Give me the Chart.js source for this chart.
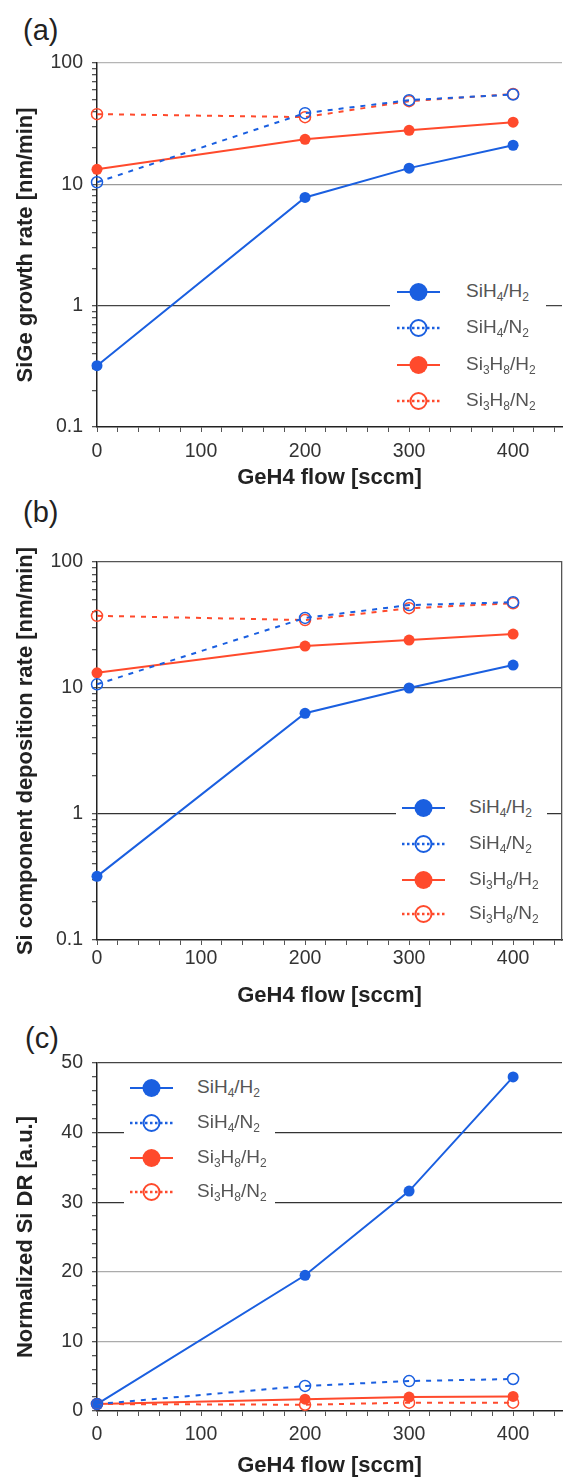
<!DOCTYPE html>
<html>
<head>
<meta charset="utf-8">
<script src="https://cdn.jsdelivr.net/npm/chart.js@4.4.0/dist/chart.umd.min.js"></script>
<style>
    body { margin: 0; background: #fff; font-family: "Liberation Sans", Arial, sans-serif; }
    #page { position: relative; width: 563px; height: 1479px; overflow: hidden; }
    .panel { position: absolute; left: 0; width: 563px; }
    .tag { position: absolute; font-size: 29px; color: #222; line-height: 1; }
    .legend-row { position: absolute; height: 30px; display: flex; align-items: center; background: #fff; }
    .legend-row svg { flex: none; }
    .legend-row span { font-size: 19px; color: #555; white-space: nowrap; }
    .legend-row sub { font-size: 12px; vertical-align: -4px; }
</style>
</head>
<body>
<div id="page">
    <div class="tag" style="left:23px; top:16px;">(a)</div>
    <div class="tag" style="left:23px; top:498px;">(b)</div>
    <div class="tag" style="left:25px; top:1024px;">(c)</div>
    <div class="panel" style="top:0; height:500px;"><canvas id="chartA"></canvas></div>
    <div class="panel" style="top:500px; height:520px;"><canvas id="chartB"></canvas></div>
    <div class="panel" style="top:1020px; height:459px;"><canvas id="chartC"></canvas></div>
</div>
<script>
// Data
const flow = [0, 200, 300, 400];
const seriesNames = ['SiH<sub>4</sub>/H<sub>2</sub>', 'SiH<sub>4</sub>/N<sub>2</sub>',
                     'Si<sub>3</sub>H<sub>8</sub>/H<sub>2</sub>', 'Si<sub>3</sub>H<sub>8</sub>/N<sub>2</sub>'];

// (a) SiGe growth rate [nm/min]
const growthSiH4H2 = [0.32, 7.8, 13.6, 21];
const growthSiH4N2 = [10.4, 38.6, 49.4, 55];
const growthSi3H8H2 = [13.3, 23.5, 27.9, 32.5];
const growthSi3H8N2 = [37.9, 35.8, 48.5, 55.5];

// (b) Si component deposition rate [nm/min]
const depoSiH4H2 = [0.32, 6.3, 10, 15.2];
const depoSiH4N2 = [10.7, 36, 45.5, 48];
const depoSi3H8H2 = [13.2, 21.5, 24, 26.8];
const depoSi3H8N2 = [37.4, 34.6, 43, 47];

// (c) Normalized Si DR [a.u.]
const normSiH4H2 = [1, 19.5, 31.6, 48];
const normSiH4N2 = [1, 3.6, 4.3, 4.6];
const normSi3H8H2 = [1, 1.7, 2.0, 2.1];
const normSi3H8N2 = [1, 0.9, 1.2, 1.2];

const xLabels = [0, 100, 200, 300, 400];
const logLabels = [0.1, 1, 10, 100];
const linLabels = [0, 10, 20, 30, 40, 50];

const BLUE = '#1a5fe0';
const RED = '#ff4a2c';
const FONT = "'Liberation Sans', Arial, sans-serif";

function makeDatasets(values) {
    const styles = [
        { color: BLUE, open: false },
        { color: BLUE, open: true },
        { color: RED, open: false },
        { color: RED, open: true }
    ];
    return values.map((vals, i) => {
        const s = styles[i];
        return {
            data: flow.map((x, j) => ({ x: x, y: vals[j] })),
            borderColor: s.color,
            borderWidth: 2,
            borderDash: s.open ? [5, 6] : [],
            pointRadius: 5.5,
            pointBorderWidth: s.open ? 1.5 : 0,
            pointBackgroundColor: s.open ? 'rgba(0,0,0,0)' : s.color,
            pointBorderColor: s.color,
            tension: 0,
            clip: false,
            order: s.open ? 1 : 2
        };
    });
}

function xScale(height, tickPad, titlePad) {
    return {
        type: 'linear',
        min: 0,
        max: 447,
        afterBuildTicks: s => {
            const t = [];
            for (let v = 0; v <= 440; v += 20) t.push({ value: v });
            s.ticks = t;
        },
        afterFit: s => { s.height = height; },
        ticks: {
            autoSkip: false,
            maxRotation: 0,
            padding: tickPad,
            color: '#333',
            font: { family: FONT, size: 19.5 },
            callback: v => (xLabels.includes(v) ? String(v) : '')
        },
        grid: { drawOnChartArea: false, tickLength: 5, tickColor: '#555' },
        border: { color: '#222', width: 1.5 },
        title: {
            display: true,
            text: 'GeH4 flow [sccm]',
            color: '#222',
            font: { family: FONT, size: 22, weight: 'bold' },
            padding: { top: 0, bottom: titlePad }
        }
    };
}

function logTicks() {
    const t = [];
    for (let e = -1; e <= 1; e++) {
        for (let m = 1; m <= 9; m++) t.push({ value: Number((m * Math.pow(10, e)).toPrecision(3)) });
    }
    t.push({ value: 100 });
    return t;
}

function yCommon(title, gridColors) {
    return {
        afterFit: s => { s.width = 97; },
        ticks: {
            autoSkip: false,
            padding: 9,
            color: '#333',
            font: { family: FONT, size: 19.5 }
        },
        grid: {
            tickLength: 5,
            tickColor: '#555',
            color: ctx => gridColors[ctx.tick.value] || 'rgba(0,0,0,0)',
            lineWidth: 1.3
        },
        border: { color: '#222', width: 1.5 },
        title: {
            display: true,
            text: title,
            color: '#222',
            font: { family: FONT, size: 22, weight: 'bold' },
            padding: { top: 13, bottom: 0 }
        }
    };
}

function yScaleLog(title, gridColors) {
    const s = yCommon(title, gridColors);
    s.type = 'logarithmic';
    s.min = 0.1;
    s.max = 100;
    s.afterBuildTicks = sc => { sc.ticks = logTicks(); };
    s.ticks.callback = v => (logLabels.includes(v) ? String(v) : '');
    return s;
}

function yScaleLin(title, gridColors) {
    const s = yCommon(title, gridColors);
    s.type = 'linear';
    s.min = 0;
    s.max = 50;
    s.afterBuildTicks = sc => {
        const t = [];
        for (let v = 0; v <= 50; v += 2) t.push({ value: v });
        sc.ticks = t;
    };
    s.ticks.callback = v => (linLabels.includes(v) ? String(v) : '');
    return s;
}

function makeChart(id, datasets, scales, padTop) {
    return new Chart(document.getElementById(id), {
        type: 'line',
        data: { datasets: datasets },
        options: {
            responsive: true,
            maintainAspectRatio: false,
            animation: false,
            layout: { autoPadding: false, padding: { top: padTop, right: 1, left: 0, bottom: 0 } },
            plugins: { legend: { display: false }, tooltip: { enabled: false } },
            scales: scales
        }
    });
}

makeChart('chartA',
    makeDatasets([growthSiH4H2, growthSiH4N2, growthSi3H8H2, growthSi3H8N2]),
    {
        x: xScale(73, 8, 9),
        y: yScaleLog('SiGe growth rate [nm/min]', { 100: '#b5b5b5', 10: '#9a9a9a', 1: '#444' })
    }, 63);

makeChart('chartB',
    makeDatasets([depoSiH4H2, depoSiH4N2, depoSi3H8H2, depoSi3H8N2]),
    {
        x: xScale(80, 2, 11),
        y: yScaleLog('Si component deposition rate [nm/min]', { 100: '#555', 10: '#555', 1: '#333' }),
        y2: {
            type: 'linear',
            position: 'right',
            afterFit: s => { s.width = 0; },
            ticks: { display: false },
            grid: { display: false },
            border: { color: '#555', width: 1.3 }
        }
    }, 62);

makeChart('chartC',
    makeDatasets([normSiH4H2, normSiH4N2, normSi3H8H2, normSi3H8N2]),
    {
        x: xScale(68, 7, 0),
        y: yScaleLin('Normalized Si DR [a.u.]', { 10: '#ababab', 20: '#ababab', 30: '#333', 40: '#333', 50: '#444' })
    }, 43);

// Legends (inside the plot areas, white background breaks the grid lines)
function markerSvg(color, open) {
    const line = open
        ? `<line x1="0" y1="15" x2="43" y2="15" stroke="${color}" stroke-width="2.5" stroke-dasharray="2.5,2.5"/>`
        : `<line x1="0" y1="15" x2="43" y2="15" stroke="${color}" stroke-width="2"/>`;
    const dot = open
        ? `<circle cx="21.5" cy="15" r="8" fill="none" stroke="${color}" stroke-width="2"/>`
        : `<circle cx="21.5" cy="15" r="9" fill="${color}"/>`;
    return `<svg width="43" height="30">${line}${dot}</svg>`;
}

function buildLegend(boxLeft, boxRight, markerStart, textStart, rows) {
    const page = document.getElementById('page');
    const colors = [BLUE, BLUE, RED, RED];
    seriesNames.forEach((name, i) => {
        const row = document.createElement('div');
        row.className = 'legend-row';
        row.style.left = boxLeft + 'px';
        row.style.top = (rows[i] - 15) + 'px';
        row.style.width = (boxRight - boxLeft) + 'px';
        row.style.paddingLeft = (markerStart - boxLeft) + 'px';
        row.style.boxSizing = 'border-box';
        row.innerHTML = markerSvg(colors[i], i % 2 === 1) +
            '<span style="margin-left:' + (textStart - markerStart - 43) + 'px">' + name + '</span>';
        page.appendChild(row);
    });
}

buildLegend(390, 546, 397, 466, [292, 328, 365, 401]);
buildLegend(396, 547, 402, 469, [808, 844, 880, 914]);
buildLegend(124, 275, 130, 197, [1088, 1123, 1158, 1192]);
</script>
</body>
</html>
